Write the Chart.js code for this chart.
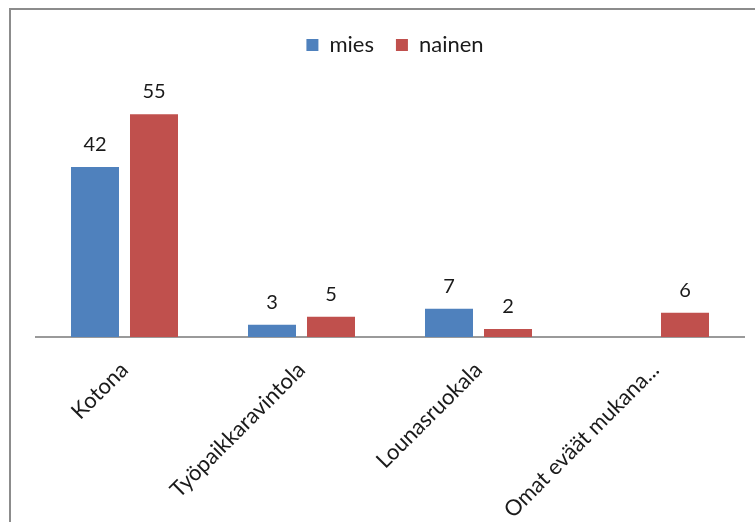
<!DOCTYPE html>
<html>
<head>
<meta charset="utf-8">
<script src="https://cdn.jsdelivr.net/npm/chart.js@4/dist/chart.umd.min.js"></script>
<style>
  html, body { margin: 0; padding: 0; background: #fff; overflow: hidden; }
  #wrap { position: relative; width: 755px; height: 522px; }
  #frame { position: absolute; left: 9px; top: 8px; width: 800px; height: 600px;
           border-left: 2px solid #8c8c8c; border-top: 2px solid #8c8c8c; box-sizing: border-box; }
  canvas { position: absolute; left: 0; top: 0; }
</style>
</head>
<body>
<div id="wrap">
  <div id="frame"></div>
  <canvas id="c" width="755" height="522"></canvas>
</div>
<script>
const categories = ["Kotona", "Työpaikkaravintola", "Lounasruokala", "Omat eväät mukana..."];
const seriesNames = ["mies", "nainen"];
const miesValues = [42, 3, 7, null];
const nainenValues = [55, 5, 2, 6];
const yMax = 60;

const FONT = "Lato, 'Open Sans', sans-serif";
const TEXT = "#1a1a1a";

const dataLabels = {
  id: 'dataLabels',
  afterDatasetsDraw(chart) {
    const ctx = chart.ctx;
    ctx.save();
    ctx.font = "20px " + FONT;
    ctx.fillStyle = TEXT;
    ctx.textAlign = 'center';
    ctx.textBaseline = 'alphabetic';
    chart.data.datasets.forEach((ds, i) => {
      const meta = chart.getDatasetMeta(i);
      meta.data.forEach((el, j) => {
        const v = ds.data[j];
        if (v === null || v === undefined) return;
        ctx.fillText(String(v), el.x, el.y - 16);
      });
    });
    ctx.restore();
  }
};

// extra blank space below the legend row, and a small horizontal nudge
const legendSpacer = {
  id: 'legendSpacer',
  beforeInit(chart) {
    const lg = chart.legend;
    if (!lg) return;
    const origFit = lg.fit;
    lg.fit = function () {
      origFit.call(this);
      this.height += 28;
    };
  },
  afterLayout(chart) {
    const lg = chart.legend;
    if (!lg) return;
    lg.left += 5;
    lg.right += 5;
  }
};

new Chart(document.getElementById('c'), {
  type: 'bar',
  data: {
    labels: categories,
    datasets: [
      { label: seriesNames[0], data: miesValues, backgroundColor: '#4F81BD',
        categoryPercentage: 0.6667, barPercentage: 0.8136 },
      { label: seriesNames[1], data: nainenValues, backgroundColor: '#C0504D',
        categoryPercentage: 0.6667, barPercentage: 0.8136 }
    ]
  },
  options: {
    responsive: false,
    animation: false,
    layout: { padding: { left: 36, right: 11, top: 12, bottom: 0 } },
    plugins: {
      legend: {
        display: true,
        position: 'top',
        labels: {
          font: { family: FONT, size: 22 },
          color: TEXT,
          boxWidth: 12,
          boxHeight: 12,
          padding: 22
        }
      },
      tooltip: { enabled: false }
    },
    scales: {
      x: {
        grid: { display: false },
        border: { display: true, color: '#9a9a9a', width: 2 },
        ticks: {
          font: { family: FONT, size: 22 },
          color: TEXT,
          minRotation: 45,
          maxRotation: 45,
          autoSkip: false,
          padding: 12
        },
        afterFit(scale) { scale.height = 522 - 337; }
      },
      y: {
        display: false,
        min: 0,
        max: yMax
      }
    }
  },
  plugins: [legendSpacer, dataLabels]
});
</script>
</body>
</html>
